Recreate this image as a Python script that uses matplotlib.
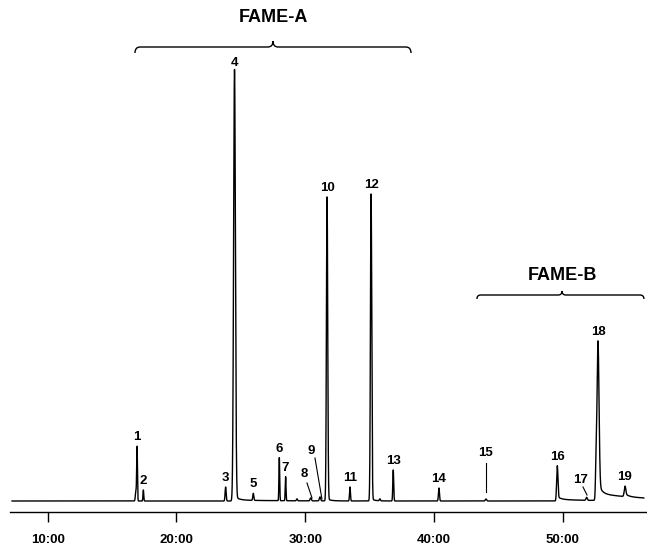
import numpy as np
import matplotlib
matplotlib.use('Agg')
import matplotlib.pyplot as plt
from matplotlib.path import Path
from matplotlib.patches import PathPatch

plt.rcParams['font.family'] = ['Liberation Sans', 'DejaVu Sans']

# Retention time (min) and heights
peak_names = ['1', '2', '3', '4', '5', '6', '7', '8', '9', '10',
              '11', '12', '13', '14', '15', '16', '17', '18', '19']
peak_times = [16.94, 17.43, 23.82, 24.51, 25.97, 27.99, 28.48, 30.43, 31.15, 31.70,
              33.48, 35.12, 36.84, 40.39, 44.04, 49.58, 51.86, 52.74, 54.84]
peak_heights = [54, 11, 14, 429, 7, 43, 24, 3, 4, 303,
                14, 306, 31, 13, 2, 33, 3, 150, 9]
peak_sigma = [0.03, 0.03, 0.04, 0.07, 0.04, 0.03, 0.03, 0.05, 0.05, 0.05,
              0.035, 0.05, 0.035, 0.04, 0.05, 0.05, 0.05, 0.08, 0.06]
# peak tailing: fast part and slow part (height, decay in min)
tail_heights = [0, 0, 0, 4, 0, 0, 0, 0, 0, 2,
                0, 2, 0, 0, 0, 3, 0, 12, 3]
tail_decay = [1, 1, 1, 0.3, 1, 1, 1, 1, 1, 0.3,
              1, 0.3, 1, 1, 1, 0.3, 1, 0.25, 0.3]
slow_heights = [0, 0, 0, 1, 0, 0, 0, 0, 0, 0,
                0, 0, 0, 0, 0, 1.5, 0, 7, 0]
slow_decay = [1, 1, 1, 3, 1, 1, 1, 1, 1, 1,
              1, 1, 1, 1, 1, 3, 1, 4, 1]

# small unlabelled bumps / shoulders
minor_times = [16.85, 29.36, 35.80, 52.58]
minor_heights = [10, 2, 2, 22]

# peaks labelled through a leader line: (label xy, line start, line end)
leader_peaks = {
    '8': ((29.91, 27), (30.14, 18), (30.53, 3)),
    '9': ((30.45, 50), (30.76, 43), (31.30, 2)),
    '15': ((44.04, 48), (44.04, 38), (44.04, 9)),
    '17': ((51.42, 21), (51.58, 14), (51.89, 6)),
}

tick_times = [10, 20, 30, 40, 50]
tick_labels = ['10:00', '20:00', '30:00', '40:00', '50:00']


def peak(t, t0, h, s):
    return h * np.exp(-0.5 * ((t - t0) / s) ** 2)


def tail(t, t0, h, s, tau):
    step = 1 / (1 + np.exp(-(t - t0) / s * 1.7))
    return h * np.exp(-np.clip(t - t0, 0, None) / tau) * step


t = np.linspace(7.23, 56.3, 40000)
signal = np.zeros_like(t)
for i, t0 in enumerate(peak_times):
    s = peak_sigma[i]
    signal += peak(t, t0, peak_heights[i], s)
    signal += tail(t, t0, tail_heights[i], s, tail_decay[i])
    signal += tail(t, t0, slow_heights[i], s, slow_decay[i])
for t0, h in zip(minor_times, minor_heights):
    signal += peak(t, t0, h, 0.04)

fig = plt.figure(figsize=(6.47, 5.46), dpi=100)
ax = fig.add_axes([0, 34 / 546, 1, 512 / 546])
ax.plot(t, signal, color='black', lw=1.0)

ax.set_xlim(6.295, 56.55)
ax.set_ylim(-11, 501)

# peak numbers on top of the peaks
for name, t0 in zip(peak_names, peak_times):
    if name in leader_peaks:
        continue
    near = (t > t0 - 0.3) & (t < t0 + 0.3)
    top = signal[near].max()
    off = 6 if name == '4' else 9
    ax.text(t0, top + off, name, ha='center', va='center',
            fontsize=9.5, fontweight='bold')

for name, (lab, p0, p1) in leader_peaks.items():
    ax.text(lab[0], lab[1], name, ha='center', va='center',
            fontsize=9.5, fontweight='bold')
    ax.plot([p0[0], p1[0]], [p0[1], p1[1]], color='black', lw=0.8)


def brace(x0, x1, xm, y, d, dx):
    verts = [(x0, y - d), (x0, y), (x0 + dx, y),
             (xm - dx, y), (xm, y), (xm, y + d),
             (xm, y), (xm + dx, y),
             (x1 - dx, y), (x1, y), (x1, y - d)]
    codes = [Path.MOVETO, Path.CURVE3, Path.CURVE3,
             Path.LINETO, Path.CURVE3, Path.CURVE3,
             Path.CURVE3, Path.CURVE3,
             Path.LINETO, Path.CURVE3, Path.CURVE3]
    ax.add_patch(PathPatch(Path(verts, codes), fill=False, lw=1.0, color='black'))


brace(16.78, 38.22, 27.5, 454, 6, 0.4)
ax.text(27.5, 483, 'FAME-A', ha='center', va='center', fontsize=13, fontweight='bold')
brace(43.34, 56.31, 49.95, 206, 4, 0.3)
ax.text(49.95, 226, 'FAME-B', ha='center', va='center', fontsize=13, fontweight='bold')

for s in ['left', 'right', 'top']:
    ax.spines[s].set_visible(False)
ax.spines['bottom'].set_bounds(7.07, 56.55)
ax.spines['bottom'].set_linewidth(1.0)
ax.set_yticks([])
ax.set_xticks(tick_times)
ax.set_xticklabels(tick_labels, fontsize=9.5, fontweight='bold')
ax.tick_params(axis='x', direction='out', length=7.5, width=1.0, pad=8)

fig.savefig('out.png', dpi=100)
